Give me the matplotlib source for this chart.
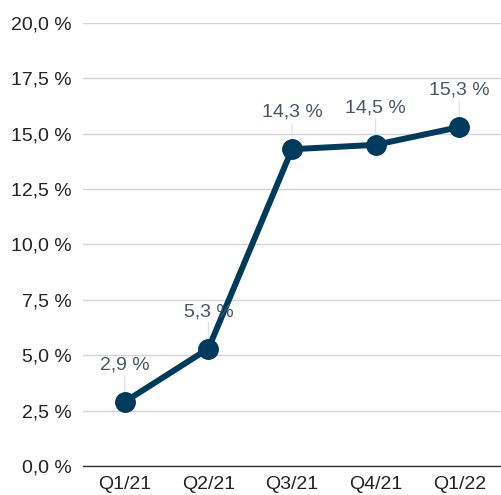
import matplotlib.pyplot as plt

quarters = ['Q1/21', 'Q2/21', 'Q3/21', 'Q4/21', 'Q1/22']
values = [2.9, 5.3, 14.3, 14.5, 15.3]
y_ticks = [0, 2.5, 5, 7.5, 10, 12.5, 15, 17.5, 20]

plt.rcParams['font.family'] = ['Liberation Sans', 'DejaVu Sans']

fig = plt.figure(figsize=(5.01, 4.95), dpi=100)
ax = fig.add_axes([83 / 501, 29 / 495, 418 / 501, 443 / 495])

x = range(len(quarters))
line_color = '#003a5c'
ax.plot(x, values, color=line_color, linewidth=4.3, marker='o', markersize=14,
        zorder=3, solid_capstyle='round')

# data labels with thin leader lines
for i, v in enumerate(values):
    ax.annotate(f'{v:.1f} %'.replace('.', ','), xy=(i, v), xytext=(0, 37),
                textcoords='offset pixels', ha='center', va='center',
                fontsize=14, color='#4a5563')
    ax.annotate('', xy=(i, v), xytext=(0, 26), textcoords='offset pixels',
                arrowprops=dict(arrowstyle='-', color='#e0e0e0', lw=0.8,
                                shrinkA=0, shrinkB=0), zorder=1)

ax.set_xlim(-0.5, len(quarters) - 0.5)
ax.set_ylim(0, 20)
ax.set_yticks(y_ticks)
ax.set_yticklabels([f'{t:.1f} %'.replace('.', ',') for t in y_ticks])
ax.set_xticks(list(x))
ax.set_xticklabels(quarters)

ax.grid(axis='y', color='#d3d3d3', linewidth=1)
ax.set_axisbelow(True)
for side in ['top', 'right', 'left']:
    ax.spines[side].set_visible(False)
ax.spines['bottom'].set_color('#333333')
ax.spines['bottom'].set_linewidth(1)
ax.tick_params(axis='both', length=0, labelsize=14, colors='#222222')
ax.tick_params(axis='y', pad=8)
ax.tick_params(axis='x', pad=7)

fig.savefig('out.png', dpi=100)
